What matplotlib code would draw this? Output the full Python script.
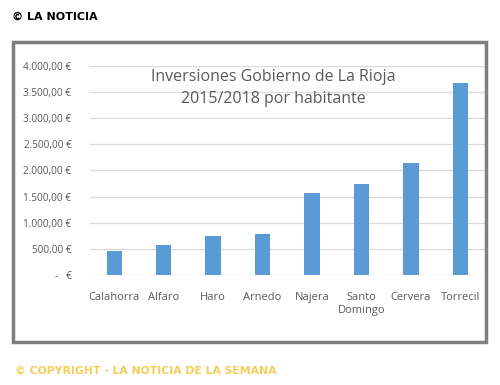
import matplotlib.pyplot as plt
from matplotlib.patches import Rectangle

municipios = ['Calahorra', 'Alfaro', 'Haro', 'Arnedo', 'Najera',
              'Santo\nDomingo', 'Cervera', 'Torrecil']
inversion = [459, 574, 746, 785, 1569, 1742, 2144, 3675]
ticks_y = [0, 500, 1000, 1500, 2000, 2500, 3000, 3500, 4000]
etiquetas_y = ['-   €', '500,00 €', '1.000,00 €', '1.500,00 €', '2.000,00 €',
               '2.500,00 €', '3.000,00 €', '3.500,00 €', '4.000,00 €']

gris = '#595959'
plt.rcParams['font.family'] = ['Open Sans', 'DejaVu Sans']

fig = plt.figure(figsize=(5, 3.85), dpi=100)

# marco gris del grafico
fig.patches.append(Rectangle((13/500, 1-342/385), 473/500, 300/385,
                             transform=fig.transFigure, fill=False,
                             edgecolor='#7f7f7f', linewidth=2.5))

ax = fig.add_axes([0.179, 0.2857, 0.791, 0.543])
ax.bar(range(len(municipios)), inversion, width=0.31, color='#5B9BD5', zorder=3)
ax.set_xlim(-0.5, len(municipios) - 0.5)
ax.set_ylim(0, 4000)
ax.set_yticks(ticks_y)
ax.set_yticklabels(etiquetas_y)
ax.set_xticks(range(len(municipios)))
ax.set_xticklabels(municipios, linespacing=1.3)
ax.grid(axis='y', color='#d9d9d9', linewidth=0.9, zorder=0)
for s in ax.spines.values():
    s.set_visible(False)
ax.tick_params(axis='y', length=0, pad=13, labelsize=7.2, labelcolor=gris)
ax.tick_params(axis='x', length=0, pad=12, labelsize=8, labelcolor=gris)

ax.text(0.465, 0.985, 'Inversiones Gobierno de La Rioja\n2015/2018 por habitante',
        transform=ax.transAxes, ha='center', va='top', fontsize=11.5,
        color=gris, linespacing=1.5)

fig.text(12/500, 1-17/385, '© LA NOTICIA', fontsize=8, fontweight='bold',
         family=['DejaVu Sans'], color='black', va='center')
fig.text(15/500, 1-371/385, '© COPYRIGHT - LA NOTICIA DE LA SEMANA', fontsize=7.8,
         fontweight='bold', family=['DejaVu Sans'], color='#f2cf5b', va='center')

fig.savefig('out.png', dpi=100)
